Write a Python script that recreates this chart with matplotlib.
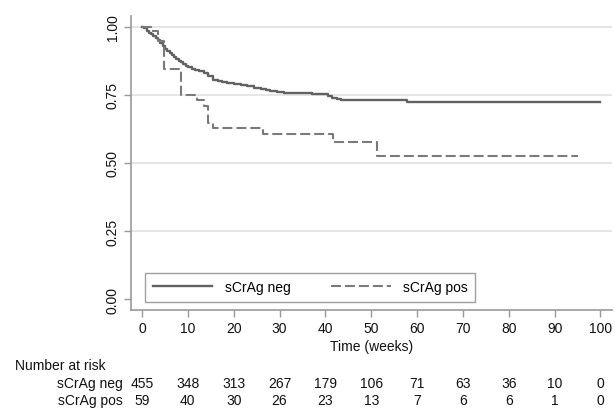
import matplotlib.pyplot as plt
import matplotlib.transforms as mtransforms

plt.rcParams['font.family'] = ['Liberation Sans', 'DejaVu Sans']

# Kaplan-Meier estimates (step function, value after each time)
neg_t = [0, 0.5, 1, 1.5, 2, 2.5, 3, 3.5, 4, 4.5, 5, 5.5, 6, 6.5, 7, 7.5, 8, 8.5, 9,
         9.5, 10, 10.8, 11.5, 12.5, 13.5, 14.5, 15.5, 16.5, 17.5, 18.5, 20, 21.5,
         23, 24.5, 26, 27, 28, 29.4, 31, 33, 35, 37, 39.5, 40.5, 41.5, 42.5, 43.5,
         57.8, 100]
neg_s = [1.0, 0.994, 0.986, 0.978, 0.972, 0.966, 0.958, 0.95, 0.94, 0.93, 0.919,
         0.912, 0.905, 0.898, 0.89, 0.883, 0.876, 0.87, 0.864, 0.858, 0.852, 0.846,
         0.842, 0.836, 0.829, 0.818, 0.806, 0.8, 0.797, 0.794, 0.791, 0.787, 0.782,
         0.777, 0.772, 0.768, 0.764, 0.76, 0.758, 0.757, 0.756, 0.755, 0.753, 0.746,
         0.74, 0.736, 0.733, 0.723, 0.723]
pos_t = [0, 2.0, 3.5, 4.8, 8.5, 11.9, 13.5, 14.5, 15.5, 26.5, 41.7, 51.2, 95]
pos_s = [1.0, 0.983, 0.949, 0.847, 0.75, 0.73, 0.71, 0.645, 0.628, 0.607, 0.576,
         0.525, 0.525]

risk_times = [0, 10, 20, 30, 40, 50, 60, 70, 80, 90, 100]
risk_neg = [455, 348, 313, 267, 179, 106, 71, 63, 36, 10, 0]
risk_pos = [59, 40, 30, 26, 23, 13, 7, 6, 6, 1, 0]

fig = plt.figure(figsize=(6.15, 4.14), dpi=100)
ax = fig.add_axes([0.213, 0.249, 0.782, 0.71])

ax.step(neg_t, neg_s, where='post', color='#626262', lw=1.7, label='sCrAg neg')
ax.step(pos_t, pos_s, where='post', color='#7a7a7a', lw=1.5,
        dashes=(4.8, 1.9), label='sCrAg pos')

ax.set_xlim(-2.4, 102.5)
ax.set_ylim(-0.04, 1.04)
ax.set_xticks(risk_times)
ax.set_yticks([0, 0.25, 0.5, 0.75, 1.0])
ax.set_yticklabels(['0.00', '0.25', '0.50', '0.75', '1.00'], rotation=90,
                   va='center')
for y in [0.25, 0.5, 0.75, 1.0]:
    ax.axhline(y, color='#e2e2e2', lw=1.2, zorder=0)

for s in ['top', 'right']:
    ax.spines[s].set_visible(False)
for s in ['left', 'bottom']:
    ax.spines[s].set_color('#999999')
    ax.spines[s].set_linewidth(1.2)
ax.tick_params(direction='out', length=5, width=1, color='#999999',
               labelsize=10, labelcolor='#111111', pad=3)

ax.set_xlabel('Time (weeks)', fontsize=10, labelpad=3, color='#111111')

leg = ax.legend(loc='lower left', bbox_to_anchor=(0.029, 0.027), ncol=2,
                fontsize=10, handlelength=4.3, handletextpad=0.9,
                columnspacing=2.9, borderpad=0.55, frameon=True, fancybox=False,
                borderaxespad=0)
leg.get_frame().set_edgecolor('#888888')
leg.get_frame().set_linewidth(1.0)

# number at risk table
tr = mtransforms.blended_transform_factory(ax.transData, fig.transFigure)
fy = lambda py: 1 - py / 414.0
fig.text(15 / 615, fy(366), 'Number at risk', fontsize=10, va='center', ha='left',
         color='#111111')
fig.text(123 / 615, fy(384), 'sCrAg neg', fontsize=10, va='center', ha='right',
         color='#111111')
fig.text(123 / 615, fy(401), 'sCrAg pos', fontsize=10, va='center', ha='right',
         color='#111111')
for t, n in zip(risk_times, risk_neg):
    ax.text(t, fy(384), str(n), transform=tr, fontsize=10, ha='center',
            va='center', color='#111111')
for t, n in zip(risk_times, risk_pos):
    ax.text(t, fy(401), str(n), transform=tr, fontsize=10, ha='center',
            va='center', color='#111111')

fig.savefig('out.png', dpi=100)
